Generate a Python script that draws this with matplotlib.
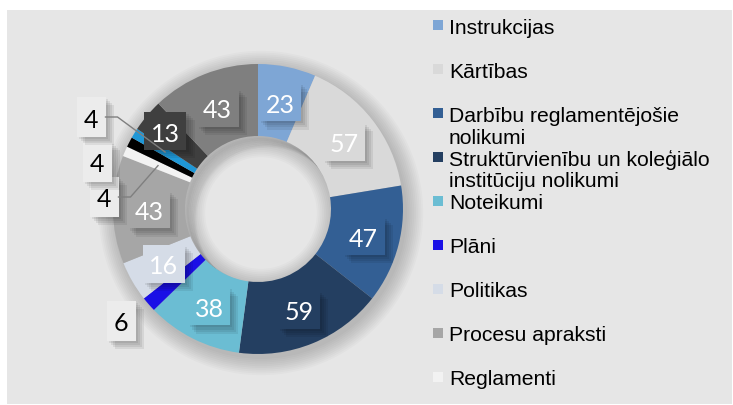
import matplotlib
matplotlib.use("Agg")
import matplotlib.pyplot as plt
import matplotlib.patheffects as pe
from matplotlib.patches import Rectangle, Wedge, Circle
import numpy as np

# ---------------- data ----------------
categories = [
    "Instrukcijas",
    "Kārtības",
    "Darbību reglamentējošie\nnolikumi",
    "Struktūrvienību un koleģiālo\ninstitūciju nolikumi",
    "Noteikumi",
    "Plāni",
    "Politikas",
    "Procesu apraksti",
    "Reglamenti",
    "",   # series not shown in the (truncated) legend
    "",
    "",
    "",
]
values = [23, 57, 47, 59, 38, 6, 16, 43, 4, 4, 4, 13, 43]
colors = ["#7EA6D5", "#D9D9D9", "#335F94", "#243F61", "#6BBDD3", "#1A10E6",
          "#D5DCE7", "#A6A6A6", "#F2F2F2", "#000000", "#1F97D6", "#3F3F3F",
          "#7F7F7F"]
legend_count = 9

# labels drawn outside the ring (offset from pie centre, px) and leader lines
outside_pos = {5: (-137, -112), 8: (-154, 12), 9: (-161, 47), 10: (-167, 92)}
leaders = {8, 10}
label_radius_extra = {11: 12}

W, H = 733, 406
fig = plt.figure(figsize=(W / 100, H / 100), dpi=100)
fig.patch.set_facecolor("white")
ax = fig.add_axes([0, 0, 1, 1])
ax.set_xlim(0, W)
ax.set_ylim(0, H)
ax.axis("off")

# panel background
ax.add_patch(Rectangle((7, 1), 725, 394, facecolor="#E6E6E6", edgecolor="none", zorder=0))

cx, cy = 258, 196
R, ring = 145, 72

# soft shadow behind the donut
for k in range(10):
    ax.add_patch(Wedge((cx + 3, cy - 4), R + 1 + k * 1.8, 0, 360, width=ring + 2 + k * 3.6,
                       facecolor="black", alpha=0.02, edgecolor="none", zorder=1))

wedges, _ = ax.pie(values, colors=colors, startangle=90, counterclock=False,
                   radius=R, center=(cx, cy), frame=True,
                   wedgeprops=dict(width=ring, edgecolor="none"))
for w in wedges:
    w.set_zorder(2)

# subtle inner shading of the hole (upper-left), clipped to the hole
hole = Circle((cx, cy), R - ring, transform=ax.transData, facecolor="none", edgecolor="none")
ax.add_patch(hole)
for k in range(8):
    sh = Wedge((cx + 2 + k * 1.2, cy - 2 - k * 1.2), R - ring + 2, 0, 360, width=3,
               facecolor="black", alpha=0.025, edgecolor="none", zorder=2.5)
    ax.add_patch(sh)
    sh.set_clip_path(hole)

ax.set_xlim(0, W)
ax.set_ylim(0, H)
ax.axis("off")

num_font = ["Lato", "DejaVu Sans"]
shadow = [pe.SimplePatchShadow(offset=(o, -o), shadow_rgbFace="black", alpha=0.07)
          for o in (1.5, 3, 4.5, 6)] + [pe.Normal()]

total = sum(values)
cum = 0
mid_r = R - ring / 2
for i, v in enumerate(values):
    a0 = cum / total * 360
    cum += v
    a1 = cum / total * 360
    mid = np.deg2rad((a0 + a1) / 2)
    txt = str(v)
    if i in outside_pos:
        dx, dy = outside_pos[i]
        x, y = cx + dx, cy + dy
        bw, bh = 29, 40
        fc, tc = "#ECECEC", "black"
        if i in leaders:
            px = cx + mid_r * np.sin(mid)
            py = cy + mid_r * np.cos(mid)
            ax.plot([x + bw / 2, x + bw / 2 + 12, px], [y, y, py], color="#7F7F7F",
                    lw=1.0, zorder=6)
    else:
        r = mid_r + label_radius_extra.get(i, 0)
        x = cx + r * np.sin(mid)
        y = cy + r * np.cos(mid)
        bw, bh = 42, 38
        fc, tc = colors[i], "white"
    rect = Rectangle((x - bw / 2, y - bh / 2), bw, bh, facecolor=fc, edgecolor="none",
                     zorder=5)
    rect.set_path_effects(shadow)
    ax.add_patch(rect)
    ax.text(x, y, txt, ha="center", va="center_baseline", color=tc, fontsize=18,
            family=num_font, zorder=7)

# legend (manual)
leg_font = ["Liberation Sans", "DejaVu Sans"]
for i in range(legend_count):
    yc = H - (26 + 44 * i)
    ax.add_patch(Rectangle((433, yc - 5), 10, 10, facecolor=colors[i], edgecolor="none",
                           zorder=3))
    for j, line in enumerate(categories[i].split("\n")):
        ax.text(449, yc - 22 * j, line, ha="left", va="center_baseline", fontsize=15.2,
                family=leg_font, color="black", zorder=3)

fig.savefig("out.png", dpi=100, facecolor=fig.get_facecolor())
